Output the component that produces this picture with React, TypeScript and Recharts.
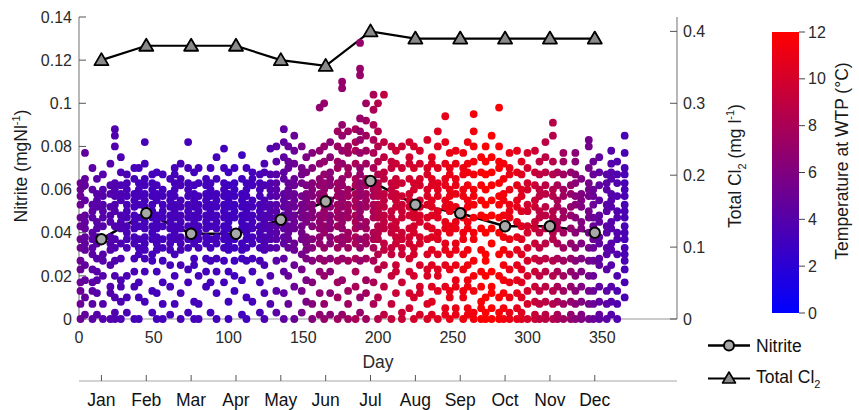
import React from 'react';
import { ComposedChart, Scatter, Line, XAxis, YAxis, Legend, Label } from 'recharts';

// ---------- data ----------
const monthLabels = ['Jan', 'Feb', 'Mar', 'Apr', 'May', 'Jun', 'Jul', 'Aug', 'Sep', 'Oct', 'Nov', 'Dec'];
const monthDays = [15, 45, 75, 105, 135, 165, 195, 225, 255, 285, 315, 345];
const nitriteMean = [0.037, 0.049, 0.0395, 0.0395, 0.046, 0.0545, 0.064, 0.053, 0.049, 0.043, 0.043, 0.040];
const totalCl2 = [0.36, 0.38, 0.38, 0.38, 0.36, 0.352, 0.40, 0.39, 0.39, 0.39, 0.39, 0.39];

const dayTicks = [0, 50, 100, 150, 200, 250, 300, 350];
const nitriteTicks = [0, 0.02, 0.04, 0.06, 0.08, 0.1, 0.12, 0.14];
const cl2Ticks = [0, 0.1, 0.2, 0.3, 0.4];
const tempTicks = [0, 2, 4, 6, 8, 10, 12];

// sampling days of the individual nitrite measurements
const sampleDays = [
  1, 4, 9, 12, 16, 21, 24, 28,
  32, 37, 40, 44, 49, 52, 56, 61,
  64, 68, 73, 77, 80, 85, 88, 92, 97, 100, 104, 109, 112, 116, 121, 124, 128,
  132, 137, 140, 144, 149, 152, 156, 161,
  164, 168, 173, 176, 180, 185, 188, 192, 197,
  200, 204, 209, 212, 216, 221, 224, 228, 233, 236, 240, 245, 248, 252, 257, 260,
  264, 269, 272, 276, 281, 284, 288, 293, 296,
  300, 305, 308, 312, 317, 320, 324, 329, 332, 336, 341,
  344, 348, 353, 356, 360, 365,
];

// water temperature at WTP (deg C) for each sampling day
const sampleTemps = [
  5, 4.6, 4.3, 4.1, 4, 3.9, 3.8, 3.6,
  3.5, 3.4, 3.3, 3.3, 3.2, 3.2, 3.2, 3.3,
  3.3, 3.4, 3.3, 3.2, 3.3, 3.2, 3.1, 3.2, 3.1, 3, 3, 3, 3.1, 3.2, 3.4, 3.6, 3.8,
  4.2, 4.4, 4.8, 5, 5.5, 5.8, 6.2, 6.8,
  7, 6.5, 7.5, 7, 7.5, 8, 7, 7.5, 8,
  8.5, 9, 9.2, 9.5, 9.5, 9.8, 10, 10, 10.2, 10.5, 10.5, 10.8, 11, 11, 11.2, 11.3,
  11.5, 11.7, 12, 12, 11.8, 11.5, 11, 10.8, 10.5,
  10, 9.5, 9, 8.8, 8.5, 8, 7.5, 7, 6.5, 6, 5.5,
  5, 4.5, 4.3, 4, 3.8, 3.5,
];

// nitrite measurements (ug/l) for each sampling day
const sampleNitrite = [
  [0, 7, 13, 17, 23, 27, 33, 37, 43, 47, 53, 57, 60, 63],
  [2, 10, 18, 25, 32, 35, 38, 42, 45, 48, 55, 62, 65, 77],
  [0, 7, 13, 17, 23, 30, 33, 37, 40, 47, 50, 53, 60, 70],
  [2, 12, 18, 22, 28, 35, 38, 42, 45, 52, 55, 58, 65],
  [0, 7, 20, 27, 30, 37, 43, 47, 50, 53, 57, 60, 67],
  [0, 12, 15, 25, 32, 35, 38, 45, 48, 52, 58, 62, 72],
  [0, 3, 10, 20, 27, 33, 37, 43, 50, 53, 57, 60, 63, 80, 85, 88],
  [0, 8, 15, 18, 28, 35, 42, 45, 48, 55, 58, 62, 68, 75],

  [3, 10, 20, 33, 37, 40, 43, 47, 50, 53, 57, 60, 63, 67],
  [0, 15, 22, 28, 35, 38, 42, 45, 48, 52, 55, 58, 65, 70],
  [0, 10, 17, 30, 33, 37, 43, 47, 53, 57, 60, 63, 70],
  [8, 22, 28, 32, 35, 38, 42, 45, 48, 52, 55, 58, 62, 65, 72, 82],
  [3, 13, 27, 30, 37, 40, 43, 47, 50, 53, 57, 60, 63, 67],
  [0, 12, 22, 32, 35, 38, 42, 45, 48, 55, 58, 62, 68],
  [0, 7, 17, 27, 33, 37, 43, 47, 50, 53, 57, 60, 67],
  [2, 15, 25, 32, 35, 38, 42, 45, 48, 52, 55, 58, 65],

  [7, 20, 30, 37, 40, 43, 47, 50, 53, 57, 60, 63, 67, 70],
  [0, 12, 25, 32, 35, 38, 42, 45, 48, 52, 55, 62, 65, 72],
  [3, 17, 23, 33, 37, 43, 47, 50, 53, 57, 60, 63, 70, 82],
  [0, 8, 25, 28, 35, 38, 42, 45, 48, 52, 55, 58, 62, 68],
  [0, 7, 20, 33, 37, 40, 43, 47, 50, 53, 57, 63, 70],
  [15, 22, 28, 35, 38, 42, 45, 48, 52, 55, 58, 62, 65],
  [3, 17, 27, 33, 37, 43, 47, 50, 53, 57, 60, 63, 70],
  [0, 12, 22, 28, 35, 38, 42, 45, 48, 52, 55, 58, 65, 75],
  [17, 27, 33, 37, 40, 43, 47, 50, 53, 57, 60, 63, 70, 79],
  [0, 8, 22, 32, 35, 38, 42, 45, 48, 52, 55, 58, 62, 68],
  [13, 20, 27, 33, 37, 40, 47, 50, 53, 57, 60, 63, 70],
  [2, 18, 28, 32, 35, 42, 45, 48, 52, 55, 58, 65, 76],
  [0, 10, 27, 33, 37, 40, 43, 47, 50, 53, 57, 60, 63, 70],
  [8, 22, 28, 35, 38, 42, 45, 48, 52, 55, 62, 65, 68],
  [3, 17, 27, 33, 37, 40, 43, 47, 50, 53, 57, 60, 63, 67],
  [0, 12, 25, 32, 35, 38, 42, 45, 48, 52, 55, 62, 68, 72],
  [7, 20, 33, 37, 40, 43, 47, 50, 53, 57, 60, 63, 67, 79],

  [3, 13, 27, 33, 37, 40, 43, 47, 50, 53, 57, 60, 63, 67, 73, 80],
  [0, 12, 22, 28, 35, 38, 42, 45, 48, 52, 55, 58, 65, 68, 75, 82, 88],
  [7, 20, 33, 37, 40, 43, 47, 50, 53, 57, 60, 63, 70, 73, 80],
  [0, 15, 25, 32, 35, 42, 45, 48, 52, 55, 58, 62, 65, 72, 78, 85],
  [3, 13, 23, 30, 37, 40, 43, 47, 50, 53, 57, 63, 67, 70, 80],
  [8, 18, 28, 32, 35, 38, 45, 48, 52, 55, 58, 62, 68, 75],
  [0, 7, 17, 27, 33, 37, 43, 47, 50, 53, 57, 60, 63, 70, 77],
  [2, 12, 22, 28, 35, 38, 42, 45, 48, 55, 58, 62, 65, 72, 78, 98],

  [0, 7, 20, 27, 33, 40, 43, 47, 50, 53, 57, 60, 63, 67, 73, 80, 100],
  [2, 12, 22, 28, 35, 38, 42, 45, 48, 52, 55, 62, 65, 68, 75, 82],
  [0, 10, 17, 27, 33, 37, 43, 47, 50, 53, 57, 60, 63, 70, 73, 80, 87],
  [2, 18, 28, 35, 38, 42, 45, 48, 52, 55, 58, 62, 65, 72, 78, 85, 90, 107, 110],
  [0, 7, 13, 27, 33, 37, 40, 47, 50, 53, 57, 60, 67, 70, 77, 80, 87],
  [0, 15, 22, 28, 35, 38, 42, 45, 48, 52, 55, 58, 62, 65, 72, 78, 82, 88],
  [3, 10, 27, 33, 37, 43, 47, 50, 53, 57, 60, 63, 67, 70, 77, 83, 87, 93, 113, 116, 128],
  [0, 12, 18, 28, 35, 38, 42, 45, 52, 55, 58, 62, 65, 72, 78, 85, 92, 100],
  [7, 17, 27, 33, 37, 40, 47, 50, 53, 57, 60, 63, 70, 77, 83, 90, 97, 104],

  [0, 10, 23, 30, 37, 40, 43, 47, 50, 53, 57, 60, 63, 67, 73, 80, 87, 100],
  [2, 15, 25, 32, 35, 42, 45, 48, 52, 55, 58, 65, 68, 75, 82, 104],
  [0, 7, 20, 30, 33, 40, 43, 47, 50, 57, 60, 63, 70, 73, 80],
  [12, 22, 25, 35, 38, 42, 45, 52, 55, 58, 62, 65, 72, 78],
  [0, 3, 17, 30, 33, 37, 40, 47, 50, 53, 57, 63, 70, 80],
  [5, 12, 22, 28, 35, 38, 42, 48, 52, 55, 58, 65, 72, 75, 82],
  [0, 10, 20, 30, 33, 40, 43, 47, 50, 53, 60, 63, 70, 80],
  [2, 12, 15, 25, 35, 38, 45, 48, 52, 55, 62, 65, 72, 78],
  [0, 7, 20, 23, 30, 37, 43, 47, 53, 57, 60, 67, 70, 83],
  [2, 8, 15, 25, 32, 38, 42, 48, 52, 55, 62, 65, 72, 75],
  [0, 13, 20, 23, 30, 37, 40, 47, 50, 57, 60, 63, 70, 80, 87],
  [2, 5, 15, 25, 32, 35, 42, 45, 52, 55, 62, 65, 72, 82, 94],
  [0, 10, 13, 23, 30, 40, 43, 50, 53, 57, 60, 67, 70, 77],
  [2, 5, 15, 18, 25, 32, 35, 42, 45, 52, 58, 62, 65, 72, 78],
  [0, 10, 13, 23, 30, 37, 40, 47, 50, 57, 60, 67, 70, 77],
  [2, 5, 15, 18, 25, 32, 42, 45, 52, 55, 62, 68, 72, 82],

  [0, 3, 13, 20, 27, 37, 40, 47, 53, 57, 60, 67, 73, 80, 87, 95],
  [0, 5, 8, 15, 22, 32, 42, 48, 55, 62, 68, 75],
  [0, 3, 10, 20, 27, 30, 40, 47, 53, 60, 67, 73, 80],
  [0, 5, 12, 15, 22, 35, 42, 48, 55, 62, 68, 75, 85],
  [0, 3, 10, 20, 30, 40, 47, 53, 57, 63, 70, 73, 80, 98],
  [0, 5, 12, 18, 25, 32, 38, 42, 48, 55, 58, 65, 72],
  [0, 3, 10, 17, 23, 30, 37, 47, 50, 53, 60, 67, 70, 77],
  [0, 5, 12, 18, 25, 32, 38, 45, 52, 55, 62, 68, 78],
  [0, 3, 10, 17, 23, 30, 37, 43, 50, 57, 60, 67, 73],

  [0, 7, 13, 20, 27, 33, 40, 43, 50, 53, 60, 63, 70, 77],
  [0, 2, 8, 15, 22, 28, 35, 42, 45, 52, 55, 62, 68, 78],
  [0, 7, 13, 20, 27, 33, 40, 47, 50, 57, 60, 67, 73],
  [0, 2, 8, 15, 22, 28, 35, 42, 48, 52, 58, 62, 68, 75, 82],
  [0, 7, 13, 20, 27, 37, 40, 47, 50, 57, 60, 67, 73, 85, 91],
  [0, 2, 8, 15, 22, 28, 35, 42, 45, 52, 55, 62, 68],
  [0, 7, 13, 20, 27, 33, 40, 47, 50, 57, 60, 67, 73, 77],
  [0, 2, 8, 15, 22, 28, 35, 42, 48, 52, 58, 62, 68],
  [0, 7, 13, 20, 27, 33, 40, 47, 53, 57, 63, 67, 73, 77],
  [0, 2, 8, 15, 22, 28, 35, 42, 45, 52, 55, 58, 65],
  [0, 7, 13, 20, 27, 33, 40, 47, 50, 57, 60, 63, 70, 80, 83],

  [0, 7, 13, 20, 27, 33, 37, 43, 47, 53, 57, 60, 67, 73],
  [0, 2, 8, 15, 25, 28, 35, 38, 45, 48, 55, 62, 68, 75],
  [0, 7, 13, 23, 30, 33, 40, 43, 50, 53, 60, 63, 67],
  [2, 8, 15, 25, 32, 35, 42, 45, 52, 55, 58, 65, 68, 72, 78],
  [0, 7, 13, 20, 30, 37, 40, 47, 50, 57, 63, 67, 73],
  [10, 17, 23, 27, 30, 33, 37, 40, 43, 47, 50, 53, 57, 60, 63, 67, 70, 77, 85],
];

// ---------- derived tables ----------
const scatterData = sampleDays.flatMap((day, i) =>
  sampleNitrite[i].map((v) => ({ day, nitrite: v / 1000, temp: sampleTemps[i] }))
);
const nitriteLineData = monthDays.map((day, i) => ({ day, value: nitriteMean[i] }));
const cl2LineData = monthDays.map((day, i) => ({ day, value: totalCl2[i] }));

const FONT = '"Liberation Sans", Arial, Helvetica, sans-serif';

function tempColor(t: number) {
  const f = Math.max(0, Math.min(1, t / 12));
  return `rgb(${Math.round(255 * f)},0,${Math.round(255 * (1 - f))})`;
}

const ScatterDot = (p: any) => (
  <circle cx={p.cx} cy={p.cy} r={3.9} fill={tempColor(p.payload.temp)} />
);

const TriangleDot = (p: any) => {
  const { cx, cy, index } = p;
  if (cx == null || cy == null) return <g key={index} />;
  return (
    <polygon
      key={index}
      points={`${cx},${cy - 7} ${cx - 7},${cy + 5} ${cx + 7},${cy + 5}`}
      fill="#8a8a8a"
      stroke="#000"
      strokeWidth={1.8}
      strokeLinejoin="round"
    />
  );
};

const renderLegend = () => (
  <svg width={159} height={70} style={{ overflow: 'visible', display: 'block' }}>
    <line x1={8} y1={17.5} x2={50} y2={17.5} stroke="#000" strokeWidth={2.6} />
    <circle cx={29} cy={17.5} r={5} fill="#a8a8a8" stroke="#000" strokeWidth={2} />
    <text x={56} y={24} fontSize={17.5} fill="#111" fontFamily={FONT}>Nitrite</text>
    <line x1={8} y1={50.5} x2={50} y2={50.5} stroke="#000" strokeWidth={2} />
    <polygon points="29,44 22.5,55 35.5,55" fill="#8a8a8a" stroke="#000" strokeWidth={1.6} strokeLinejoin="round" />
    <text x={56} y={55} fontSize={17.5} fill="#111" fontFamily={FONT}>
      Total Cl<tspan dy={5} fontSize={11}>2</tspan>
    </text>
  </svg>
);

const colorbarY0 = 313; // pixel of 0 deg
const colorbarY1 = 32; // pixel of 12 deg

export default function App() {
  return (
    <div style={{ position: 'absolute', left: 0, top: 0, width: 859, height: 410, fontFamily: FONT, background: '#fff' }}>
      <ComposedChart width={859} height={410} margin={{ top: 17, right: 0, left: 0, bottom: 0 }}>
        <XAxis
          dataKey="day"
          type="number"
          domain={[0, 400]}
          ticks={dayTicks}
          interval={0}
          height={62}
          tickLine={false}
          tickSize={0}
          tickMargin={13}
          axisLine={{ stroke: '#b8b8b8', strokeWidth: 1.3 }}
          tick={{ fontSize: 16, fill: '#2a2a2a' }}
        >
          <Label
            content={(p: any) => {
              const vb = p.viewBox || { x: 79, y: 319, width: 598 };
              return (
                <text x={vb.x + vb.width / 2} y={vb.y + 49} textAnchor="middle" fontSize={17.5} fill="#2a2a2a">
                  Day
                </text>
              );
            }}
          />
        </XAxis>
        <XAxis
          xAxisId="m"
          dataKey="day"
          type="number"
          domain={[0, 400]}
          ticks={monthDays}
          interval={0}
          height={29}
          tickSize={-6}
          tickMargin={19}
          tickLine={{ stroke: '#555' }}
          axisLine={{ stroke: '#c4c4c4', strokeWidth: 1.5 }}
          tickFormatter={(v: number) => monthLabels[monthDays.indexOf(v)] ?? ''}
          tick={{ fontSize: 17.5, fill: '#111' }}
        />
        <XAxis
          xAxisId="top"
          orientation="top"
          type="number"
          domain={[0, 400]}
          height={0}
          tick={false}
          tickLine={false}
          axisLine={{ stroke: '#efefef' }}
        />
        <YAxis
          yAxisId="l"
          type="number"
          domain={[0, 0.14]}
          ticks={nitriteTicks}
          interval={0}
          width={79}
          tickSize={-7}
          tickMargin={14}
          tickLine={{ stroke: '#555' }}
          axisLine={{ stroke: '#888', strokeWidth: 1.2 }}
          tickFormatter={(v: number) => String(Number(v.toFixed(2)))}
          tick={{ fontSize: 16, fill: '#2a2a2a' }}
        >
          <Label
            content={() => (
              <text transform="translate(27,166) rotate(-90)" textAnchor="middle" fontSize={17.5} fill="#1a1a1a">
                Nitrite (mgNl<tspan dy={-7} fontSize={11}>-1</tspan>
                <tspan dy={7}>)</tspan>
              </text>
            )}
          />
        </YAxis>
        <YAxis
          yAxisId="r"
          orientation="right"
          type="number"
          domain={[0, 0.42]}
          ticks={cl2Ticks}
          interval={0}
          width={182}
          tickSize={-7}
          tickMargin={13}
          tickLine={{ stroke: '#555' }}
          axisLine={{ stroke: '#888', strokeWidth: 1.2 }}
          tickFormatter={(v: number) => String(Number(v.toFixed(1)))}
          tick={{ fontSize: 16, fill: '#2a2a2a' }}
        >
          <Label
            content={() => (
              <text transform="translate(741,166) rotate(-90)" textAnchor="middle" fontSize={17.5} fill="#1a1a1a">
                Total Cl<tspan dy={5} fontSize={11}>2</tspan>
                <tspan dy={-5}> (mg l</tspan>
                <tspan dy={-7} fontSize={11}>-1</tspan>
                <tspan dy={7}>)</tspan>
              </text>
            )}
          />
        </YAxis>

        <Scatter
          yAxisId="l"
          data={scatterData}
          dataKey="nitrite"
          shape={ScatterDot}
          isAnimationActive={false}
        />
        {/* invisible series that binds the month axis to the same day scale */}
        <Line
          xAxisId="m"
          yAxisId="l"
          data={nitriteLineData}
          dataKey="value"
          stroke="none"
          dot={false}
          activeDot={false}
          legendType="none"
          isAnimationActive={false}
        />
        <Line
          yAxisId="l"
          data={nitriteLineData}
          dataKey="value"
          type="linear"
          stroke="#000"
          strokeWidth={2.6}
          dot={{ r: 5.2, fill: '#a8a8a8', stroke: '#000', strokeWidth: 2 }}
          activeDot={false}
          isAnimationActive={false}
        />
        <Line
          yAxisId="r"
          data={cl2LineData}
          dataKey="value"
          type="linear"
          stroke="#000"
          strokeWidth={2.2}
          dot={TriangleDot}
          activeDot={false}
          isAnimationActive={false}
        />
        <Legend
          content={renderLegend}
          layout="vertical"
          align="center"
          verticalAlign="middle"
          wrapperStyle={{ left: 700, top: 328, width: 159, height: 70 }}
        />
      </ComposedChart>

      <svg
        width={859}
        height={410}
        style={{ position: 'absolute', left: 0, top: 0, pointerEvents: 'none' }}
      >
        <defs>
          <linearGradient id="tempGrad" x1="0" y1="1" x2="0" y2="0">
            <stop offset="0" stopColor={tempColor(0)} />
            <stop offset="1" stopColor={tempColor(12)} />
          </linearGradient>
        </defs>
        <rect x={772} y={colorbarY1} width={27} height={colorbarY0 - colorbarY1} fill="url(#tempGrad)" />
        {tempTicks.map((t) => {
          const y = colorbarY0 - ((colorbarY0 - colorbarY1) * t) / 12;
          return (
            <g key={t}>
              <line x1={799} x2={805} y1={y} y2={y} stroke="#444" strokeWidth={1} />
              <text x={808} y={y} dy="0.35em" fontSize={16} fill="#2a2a2a" fontFamily={FONT}>
                {t}
              </text>
            </g>
          );
        })}
        <text
          transform="translate(848,161) rotate(-90)"
          textAnchor="middle"
          fontSize={17.5}
          fill="#1a1a1a"
          fontFamily={FONT}
        >
          Temperature at WTP (°C)
        </text>
      </svg>
    </div>
  );
}
